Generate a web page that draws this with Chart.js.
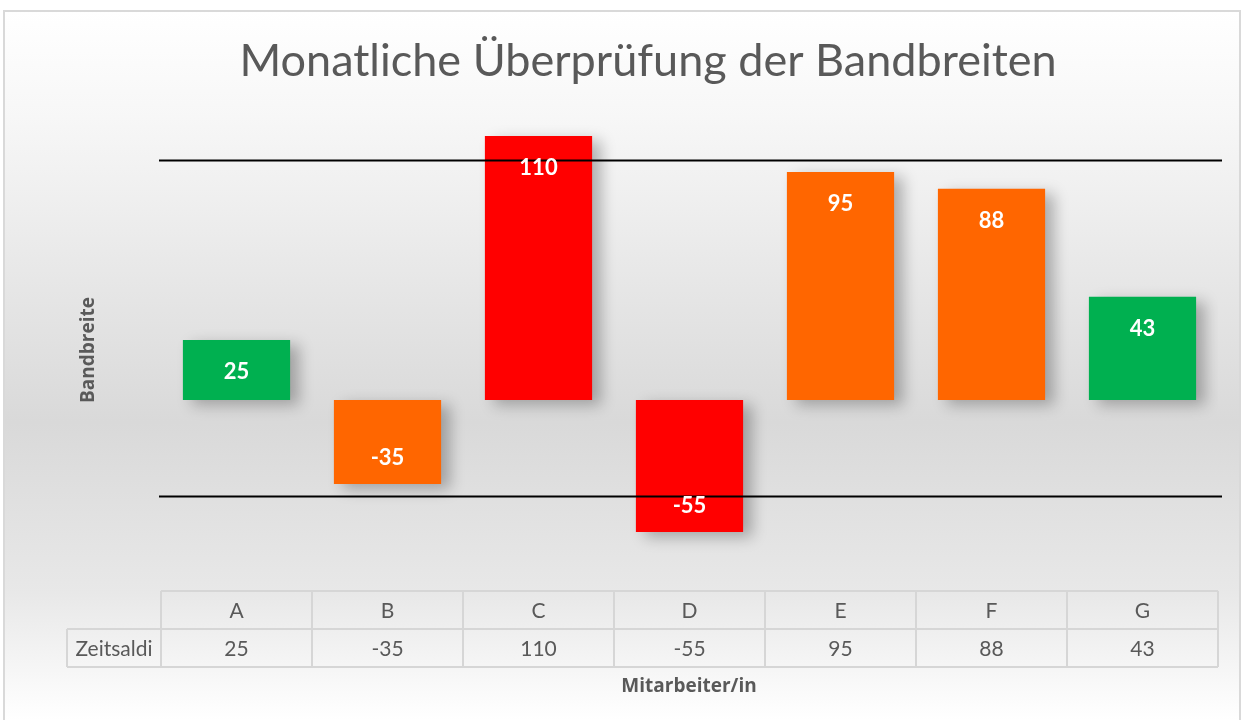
<!DOCTYPE html>
<html>
<head>
<meta charset="utf-8">
<script src="https://cdn.jsdelivr.net/npm/chart.js@4"></script>
<style>
  html, body { margin: 0; padding: 0; background: #fff; }
  #wrap { width: 1244px; height: 720px; }
</style>
</head>
<body>
<div id="wrap"><canvas id="bar-chart" width="1244" height="720"></canvas></div>
<script>
// data
var categories = ['A', 'B', 'C', 'D', 'E', 'F', 'G'];
var zeitsaldi = [25, -35, 110, -55, 95, 88, 43];
var upperBand = 100;
var lowerBand = -40;
var rowLabel = 'Zeitsaldi';

// styles
var barColors = ['#00B050', '#FF6600', '#FF0000', '#FF0000', '#FF6600', '#FF6600', '#00B050'];
var textGrey = '#595959';
var fontFam = 'Lato, "Open Sans", sans-serif';
var boldFam = '"Open Sans", Lato, sans-serif';

var backgroundPlugin = {
    id: 'bg',
    beforeDraw: function (chart) {
        var ctx = chart.ctx;
        ctx.save();
        ctx.fillStyle = '#fff';
        ctx.fillRect(0, 0, chart.width, chart.height);
        var g = ctx.createLinearGradient(0, 11, 0, 720);
        g.addColorStop(0, '#ffffff');
        g.addColorStop(0.15, '#f7f7f7');
        g.addColorStop(0.58, '#d9d9d9');
        g.addColorStop(0.82, '#e8e8e8');
        g.addColorStop(1, '#ffffff');
        ctx.fillStyle = g;
        ctx.fillRect(4, 11, 1236, 709);
        ctx.strokeStyle = '#d9d9d9';
        ctx.lineWidth = 2;
        ctx.strokeRect(4, 11, 1236, 712);
        ctx.restore();
    }
};

var shadowPlugin = {
    id: 'barShadow',
    beforeDatasetDraw: function (chart) {
        var ctx = chart.ctx;
        ctx.save();
        ctx.shadowColor = 'rgba(0,0,0,0.28)';
        ctx.shadowBlur = 14;
        ctx.shadowOffsetX = 9;
        ctx.shadowOffsetY = 5;
    },
    afterDatasetDraw: function (chart) {
        chart.ctx.restore();
    }
};

var overlayPlugin = {
    id: 'overlay',
    afterDatasetsDraw: function (chart) {
        var ctx = chart.ctx;
        var area = chart.chartArea;
        var y = chart.scales.y;
        var x = chart.scales.x;
        ctx.save();

        // band lines
        ctx.strokeStyle = '#000';
        ctx.lineWidth = 2;
        [upperBand, lowerBand].forEach(function (v) {
            var py = Math.round(y.getPixelForValue(v)) + 0.5;
            ctx.beginPath();
            ctx.moveTo(area.left - 2, py);
            ctx.lineTo(area.right + 4, py);
            ctx.stroke();
        });

        // value labels
        var meta = chart.getDatasetMeta(0);
        ctx.fillStyle = '#fff';
        ctx.font = 'bold 22px ' + fontFam;
        ctx.textAlign = 'center';
        ctx.textBaseline = 'middle';
        meta.data.forEach(function (bar, i) {
            var v = zeitsaldi[i];
            var ly = v >= 0 ? bar.y + 32 : bar.y - 26;
            ctx.fillText(String(v), bar.x, ly);
        });

        // data table
        var w = (area.right - area.left) / categories.length;
        var top = 591, mid = 629, bot = 667, labelLeft = 67;
        ctx.strokeStyle = '#d6d6d6';
        ctx.lineWidth = 2;
        ctx.beginPath();
        ctx.moveTo(area.left, top); ctx.lineTo(area.right, top);
        ctx.moveTo(labelLeft, mid); ctx.lineTo(area.right, mid);
        ctx.moveTo(labelLeft, bot); ctx.lineTo(area.right, bot);
        ctx.moveTo(labelLeft, mid); ctx.lineTo(labelLeft, bot);
        for (var i = 0; i <= categories.length; i++) {
            var cx = area.left + i * w;
            ctx.moveTo(cx, top); ctx.lineTo(cx, bot);
        }
        ctx.stroke();

        ctx.fillStyle = textGrey;
        ctx.font = '21px ' + fontFam;
        categories.forEach(function (c, i) {
            var px = x.getPixelForValue(i);
            ctx.fillText(c, px, (top + mid) / 2 + 1);
            ctx.fillText(String(zeitsaldi[i]), px, (mid + bot) / 2 + 1);
        });
        ctx.fillText(rowLabel, (labelLeft + area.left) / 2, (mid + bot) / 2 + 1);

        // axis titles
        ctx.font = 'bold 19px ' + boldFam;
        ctx.fillText('Mitarbeiter/in', 689, 687);
        ctx.translate(89, 350);
        ctx.rotate(-Math.PI / 2);
        ctx.fillText('Bandbreite', 0, 0);

        ctx.restore();
    }
};

new Chart(document.getElementById('bar-chart'), {
    type: 'bar',
    data: {
        labels: categories,
        datasets: [{
            label: rowLabel,
            data: zeitsaldi,
            backgroundColor: barColors,
            borderWidth: 0,
            barPercentage: 0.71,
            categoryPercentage: 1
        }]
    },
    options: {
        responsive: false,
        animation: false,
        layout: { padding: { left: 78, right: 26, top: 0, bottom: 152 } },
        scales: {
            x: { display: false },
            y: {
                display: true,
                min: -70, max: 115,
                ticks: { display: false },
                grid: { display: false },
                border: { display: false },
                afterFit: function (scale) { scale.width = 83; }
            }
        },
        plugins: {
            legend: { display: false },
            tooltip: { enabled: false },
            title: {
                display: true,
                text: 'Monatliche Überprüfung der Bandbreiten',
                color: textGrey,
                font: { family: fontFam, size: 45, weight: 'normal', lineHeight: 1.2 },
                padding: { top: 34, bottom: 36 }
            }
        }
    },
    plugins: [backgroundPlugin, shadowPlugin, overlayPlugin]
});
</script>
</body>
</html>
